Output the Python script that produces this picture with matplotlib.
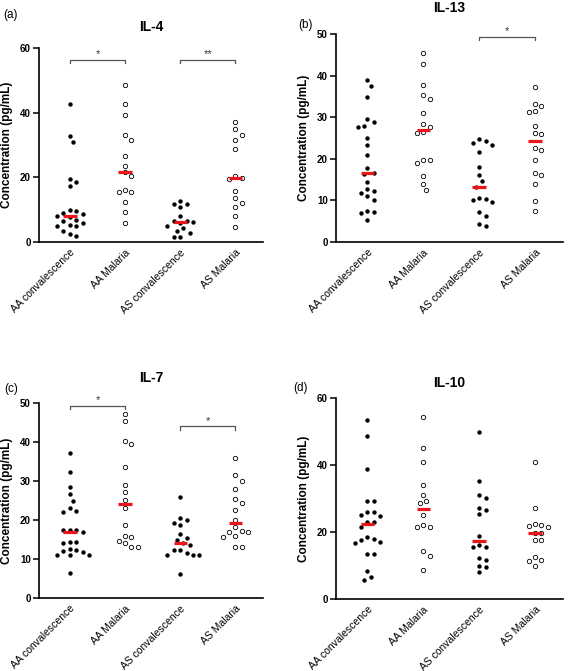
import numpy as np
import matplotlib
matplotlib.use("Agg")
import matplotlib.pyplot as plt

plt.rcParams['font.family'] = ['Liberation Sans', 'DejaVu Sans']

groups = ["AA convalescence", "AA Malaria", "AS convalescence", "AS Malaria"]
filled = [True, False, True, False]

# IL-4
il4_aa_conv = [42.8, 32.8, 30.9, 19.4, 18.6, 17.2, 9.8, 9.6, 9.0, 8.8, 8.1, 7.8, 6.8, 6.5, 6.0, 5.2, 5.0, 4.8, 3.5, 2.5, 1.8]
il4_aa_mal = [48.6, 42.8, 39.2, 33.2, 31.7, 26.7, 23.6, 21.6, 20.5, 16.1, 15.5, 15.5, 12.4, 9.3, 5.9]
il4_as_conv = [12.8, 11.7, 11.7, 10.7, 8.1, 6.5, 6.4, 6.2, 6.0, 4.9, 4.2, 3.4, 2.8, 1.6, 1.6]
il4_as_mal = [37.2, 34.8, 33.2, 31.4, 28.8, 20.5, 19.8, 19.6, 15.7, 13.7, 12.2, 10.7, 8.0, 4.7]

# IL-13
il13_aa_conv = [38.9, 37.4, 34.8, 29.5, 28.8, 28.0, 27.6, 25.0, 23.4, 21.0, 17.8, 16.5, 16.3, 14.5, 12.8, 12.2, 11.8, 11.1, 10.1, 7.5, 7.1, 7.0, 5.3]
il13_aa_mal = [45.5, 42.9, 37.8, 35.3, 34.3, 30.9, 28.3, 27.6, 26.4, 26.1, 19.8, 19.7, 19.0, 15.9, 14.0, 12.5]
il13_as_conv = [24.7, 24.2, 23.7, 23.4, 21.6, 18.1, 16.0, 14.6, 13.3, 10.5, 10.4, 10.2, 9.6, 7.3, 6.2, 4.4, 3.9]
il13_as_mal = [37.2, 33.1, 32.8, 31.5, 31.3, 27.8, 26.1, 25.9, 22.7, 22.2, 19.7, 16.5, 16.2, 13.9, 9.8, 7.5]

# IL-7
il7_aa_conv = [37.1, 32.3, 28.5, 26.6, 25.0, 23.1, 22.4, 22.0, 17.5, 17.5, 17.4, 16.8, 14.4, 14.3, 14.0, 12.6, 12.3, 12.1, 11.7, 11.0, 10.9, 10.9, 6.4]
il7_aa_mal = [47.2, 45.5, 40.3, 39.5, 33.7, 28.9, 27.2, 25.2, 23.0, 18.6, 15.8, 15.6, 14.6, 14.0, 13.2, 13.2]
il7_as_conv = [25.8, 20.6, 20.1, 19.3, 18.8, 16.4, 15.5, 14.9, 14.0, 13.6, 12.2, 12.2, 11.6, 10.9, 10.9, 10.9, 6.1]
il7_as_mal = [36.0, 31.5, 30.1, 27.9, 25.5, 24.3, 22.5, 20.1, 18.2, 17.1, 17.0, 16.8, 16.0, 15.6, 13.1, 13.1]

# IL-10
il10_aa_conv = [53.3, 48.8, 38.8, 29.4, 29.3, 26.1, 26.0, 25.2, 24.8, 23.1, 23.0, 21.5, 18.6, 18.0, 17.5, 17.0, 16.8, 13.5, 13.5, 8.3, 6.5, 5.7]
il10_aa_mal = [54.3, 45.2, 41.0, 34.0, 31.1, 29.3, 28.8, 25.0, 22.2, 21.6, 21.5, 14.2, 12.8, 8.6]
il10_as_conv = [50.0, 35.3, 31.1, 30.1, 27.3, 26.7, 25.3, 18.7, 16.0, 15.5, 15.5, 12.3, 11.7, 10.0, 9.6, 8.0]
il10_as_mal = [40.9, 27.1, 22.5, 22.2, 21.7, 21.6, 19.8, 19.6, 17.7, 17.6, 12.4, 11.7, 11.3, 10.0]

# significance brackets: (group a, group b, y, label)
sig_il4 = [(0, 1, 56.3, "*"), (2, 3, 56.3, "**")]
sig_il13 = [(2, 3, 49.3, "*")]
sig_il7 = [(0, 1, 49.3, "*"), (2, 3, 44.0, "*")]
sig_il10 = []

W, H = 568, 671
fig = plt.figure(figsize=(W / 100, H / 100), dpi=100)

XLIM = (-0.56, 3.5)


def swarm(vals, ppx, ppy, d=6.4):
    # simple beeswarm in pixel space
    vals = np.asarray(vals, float)
    xs = np.zeros(len(vals))
    placed = []
    order = np.argsort(-vals)
    cands = [0]
    for k in range(1, 14):
        cands += [k * d / 2, -k * d / 2]
    for i in order:
        yp = vals[i] * ppy
        for c in cands:
            if all((c - px) ** 2 + (yp - py) ** 2 >= d * d for px, py in placed):
                break
        placed.append((c, yp))
        xs[i] = c / ppx
    return xs


def panel(rect_px, data, ymax, ystep, title, tag, sig, title_y, tag_xy):
    l, t, r, b = rect_px
    ax = fig.add_axes([l / W, 1 - b / H, (r - l) / W, (b - t) / H])
    ppx = (r - l) / (XLIM[1] - XLIM[0])
    ppy = (b - t) / ymax
    for i, vals in enumerate(data):
        off = swarm(vals, ppx, ppy)
        x = i + off
        if filled[i]:
            ax.scatter(x, vals, s=10, color="black", linewidths=0, zorder=3,
                       clip_on=False)
        else:
            ax.scatter(x, vals, s=10, facecolor="white", edgecolor="black",
                       linewidths=0.6, zorder=3, clip_on=False)
        med = np.median(vals)
        ax.plot([i - 0.12, i + 0.12], [med, med], color="#e8161c", lw=2.3,
                solid_capstyle="butt", zorder=4)
    for g1, g2, y, lab in sig:
        dy = ymax * 0.016
        ax.plot([g1, g1, g2, g2], [y - dy, y, y, y - dy], color="#555555", lw=0.9,
                clip_on=False)
        ax.text((g1 + g2) / 2, y + ymax * 0.004, lab, ha="center", va="bottom",
                fontsize=8, color="#333333")
    ax.set_xlim(*XLIM)
    ax.set_ylim(0, ymax)
    ax.set_yticks(np.arange(0, ymax + 0.1, ystep))
    ax.set_xticks(range(4))
    ax.set_xticklabels(groups, rotation=45, ha="right", rotation_mode="anchor",
                       fontsize=7.5)
    ax.tick_params(axis="x", length=0, pad=4)
    ax.tick_params(axis="y", length=4, width=1.1, labelsize=7, pad=2)
    for lab in ax.get_yticklabels():
        lab.set_fontweight("bold")
    for s in ["top", "right"]:
        ax.spines[s].set_visible(False)
    for s in ["left", "bottom"]:
        ax.spines[s].set_linewidth(1.2)
    ax.set_ylabel("Concentration (pg/mL)", fontsize=8.5, fontweight="bold",
                  labelpad=5)
    fig.text((l + r) / 2 / W, 1 - title_y / H, title, ha="center", va="center",
             fontsize=10, fontweight="bold")
    fig.text(tag_xy[0] / W, 1 - tag_xy[1] / H, tag, ha="center", va="center",
             fontsize=8.5)
    return ax


panel((39, 48, 263, 242), [il4_aa_conv, il4_aa_mal, il4_as_conv, il4_as_mal],
      60, 20, "IL-4", "(a)", sig_il4, 27, (11, 15))
panel((336, 34, 563, 242), [il13_aa_conv, il13_aa_mal, il13_as_conv, il13_as_mal],
      50, 10, "IL-13", "(b)", sig_il13, 8, (306, 25))
panel((39, 403, 263, 598), [il7_aa_conv, il7_aa_mal, il7_as_conv, il7_as_mal],
      50, 10, "IL-7", "(c)", sig_il7, 378, (11, 389))
panel((336, 398, 563, 599), [il10_aa_conv, il10_aa_mal, il10_as_conv, il10_as_mal],
      60, 20, "IL-10", "(d)", sig_il10, 383, (301, 388))

fig.savefig("out.png", dpi=100)
